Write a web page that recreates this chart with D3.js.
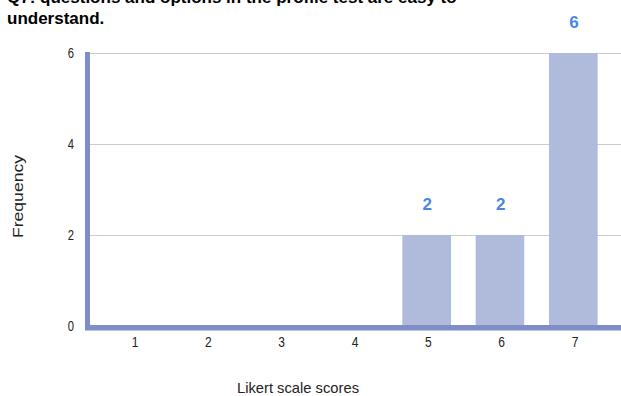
<!DOCTYPE html>
<html><head><meta charset="utf-8">
<script src="https://cdn.jsdelivr.net/npm/d3@7"></script>
<style>body{margin:0;background:#fff}svg{display:block}</style>
</head><body>
<script>
const categories = ["1","2","3","4","5","6","7"];
const values = [0,0,0,0,2,2,6];
const yTicks = [0,2,4,6];
const titleLines = ["Q7: questions and options in the profile test are easy to","understand."];
const xTitle = "Likert scale scores";
const yTitle = "Frequency";

const W = 621, H = 396;
const svg = d3.select("body").append("svg").attr("width", W).attr("height", H);
const font = "'Liberation Sans', Arial, sans-serif";

const x = d3.scaleBand().domain(categories).range([98.3, 611.7]).paddingInner(0.345).paddingOuter(0.1725);
const y = d3.scaleLinear().domain([0, 6]).range([326, 53]);

// gridlines
svg.append("g").selectAll("line").data(yTicks).join("line")
  .attr("x1", 89).attr("x2", W).attr("y1", d => y(d) + 0.5).attr("y2", d => y(d) + 0.5)
  .attr("stroke", "#cccccc").attr("stroke-width", 1);

// bars
const data = values.map((v, i) => ({v, c: categories[i]}));
const bars = svg.append("g");
bars.selectAll("rect").data(data).join("rect")
  .attr("x", d => x(d.c) - 2)
  .attr("width", x.bandwidth())
  .attr("y", d => y(d.v))
  .attr("height", d => y(0) - y(d.v))
  .attr("fill", "#b0bada");
bars.selectAll("line").data(data.filter(d => d.v > 0)).join("line")
  .attr("x1", d => x(d.c) - 2 + x.bandwidth()).attr("x2", d => x(d.c) - 2 + x.bandwidth())
  .attr("y1", d => y(d.v)).attr("y2", y(0))
  .attr("stroke", "#9ab8f5").attr("stroke-width", 1);

// axes lines
svg.append("rect").attr("x", 85).attr("y", 52).attr("width", 5).attr("height", 278).attr("fill", "#7f8ec6");
svg.append("rect").attr("x", 85).attr("y", 325).attr("width", W - 85).attr("height", 5.5).attr("fill", "#7f8ec6");

// y tick labels
svg.append("g").selectAll("text").data(yTicks).join("text")
  .attr("transform", d => `translate(74,${y(d)}) scale(0.75,1)`)
  .attr("dy", "0.36em")
  .attr("text-anchor", "end").attr("font-family", font).attr("font-size", 15).attr("fill", "#222")
  .text(d => d);

// x tick labels
svg.append("g").selectAll("text").data(categories).join("text")
  .attr("transform", d => `translate(${x(d) + x.bandwidth() / 2},341.5) scale(0.8,1)`)
  .attr("dy", "0.36em")
  .attr("text-anchor", "middle").attr("font-family", font).attr("font-size", 15).attr("fill", "#222")
  .text(d => d);

// value labels
svg.append("g").selectAll("text").data(data.filter(d => d.v > 0)).join("text")
  .attr("x", d => x(d.c) + x.bandwidth() / 2 - 1)
  .attr("y", d => y(d.v) - 25)
  .attr("text-anchor", "middle").attr("font-family", font).attr("font-size", 17).attr("font-weight", "bold")
  .attr("fill", "#4a86e8").text(d => d.v);

// axis titles
svg.append("text").attr("x", 298).attr("y", 393).attr("text-anchor", "middle")
  .attr("font-family", font).attr("font-size", 15).attr("fill", "#222")
  .attr("textLength", 122).attr("lengthAdjust", "spacingAndGlyphs").text(xTitle);
svg.append("text").attr("transform", "translate(23,196.5) rotate(-90)").attr("text-anchor", "middle")
  .attr("font-family", font).attr("font-size", 15).attr("fill", "#222")
  .attr("textLength", 83).attr("lengthAdjust", "spacingAndGlyphs").text(yTitle);

// title
svg.append("g").selectAll("text").data(titleLines).join("text")
  .attr("x", 7).attr("y", (d, i) => 3 + i * 21)
  .attr("font-family", font).attr("font-size", 17).attr("font-weight", "bold").attr("fill", "#000")
  .text(d => d);
</script>
</body></html>
